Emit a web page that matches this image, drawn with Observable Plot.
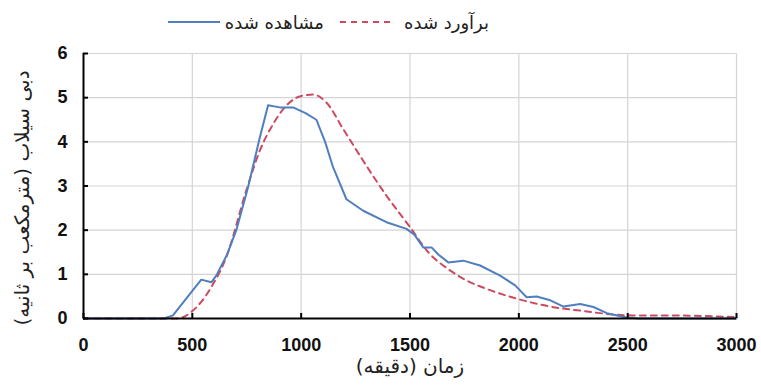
<!DOCTYPE html>
<html><head><meta charset="utf-8">
<script src="https://cdn.jsdelivr.net/npm/d3@7"></script>
<script src="https://cdn.jsdelivr.net/npm/@observablehq/plot@0.6"></script>
<style>
body{margin:0;background:#fff;}
#wrap{position:relative;width:761px;height:385px;}
#legend{position:absolute;top:7px;left:0;width:761px;height:30px;font-family:"DejaVu Sans",sans-serif;font-size:18px;color:#222;}
.item{position:absolute;top:0;display:flex;align-items:center;height:30px;}
.ylab{position:absolute;left:22px;top:198px;transform:translate(-50%,-50%) rotate(-90deg);white-space:nowrap;font-family:"DejaVu Sans",sans-serif;font-size:20px;color:#222;}
.xlab{position:absolute;left:410px;top:366px;transform:translate(-50%,-50%);white-space:nowrap;font-family:"DejaVu Sans",sans-serif;font-size:20px;color:#222;}
</style></head>
<body><div id="wrap"></div>
<script>
const seriesNames = ["مشاهده شده", "برآورد شده"];
const xTitle = "زمان (دقیقه)";
const yTitle = "دبی سیلاب (مترمکعب بر ثانیه)";
const xTicks = [0, 500, 1000, 1500, 2000, 2500, 3000];
const yTicks = [0, 1, 2, 3, 4, 5, 6];

const obsTime = [0, 370, 411, 480, 541, 587, 610, 660, 702, 756, 810, 848, 902, 963, 1020, 1070, 1110, 1147, 1208, 1285, 1392, 1484, 1520, 1561, 1599, 1630, 1676, 1745, 1822, 1914, 1983, 2036, 2082, 2140, 2205, 2282, 2343, 2404, 2489, 2550, 3000];
const obsQ    = [0, 0, 0.07, 0.5, 0.88, 0.82, 0.97, 1.45, 2.0, 2.97, 4.1, 4.83, 4.78, 4.78, 4.65, 4.5, 4.0, 3.42, 2.7, 2.44, 2.18, 2.03, 1.9, 1.61, 1.61, 1.45, 1.27, 1.31, 1.2, 0.97, 0.75, 0.48, 0.5, 0.42, 0.27, 0.33, 0.26, 0.12, 0.03, 0, 0];

const estTime = [0, 430, 503, 587, 656, 748, 810, 871, 932, 1001, 1055, 1116, 1193, 1285, 1392, 1500, 1584, 1684, 1760, 1852, 1990, 2144, 2297, 2435, 2525, 2680, 3000];
const estQ    = [0, 0, 0.18, 0.71, 1.39, 2.9, 3.8, 4.4, 4.82, 5.04, 5.07, 4.89, 4.29, 3.57, 2.78, 2.07, 1.5, 1.09, 0.86, 0.67, 0.45, 0.27, 0.17, 0.09, 0.07, 0.07, 0.03];

const colors = ["#4f7fbf", "#cc4a60"];

const obs = obsTime.map((t, i) => ({t, q: obsQ[i]}));
const est = estTime.map((t, i) => ({t, q: estQ[i]}));

const tickFont = {fontFamily: "'Liberation Sans', Arial, sans-serif", fontWeight: "bold", fontSize: 18, fill: "#111", tickFormat: d => String(d)};

const chart = Plot.plot({
  width: 761, height: 385,
  marginLeft: 83, marginRight: 25, marginTop: 53, marginBottom: 67,
  x: {domain: [0, 3000]},
  y: {domain: [0, 6]},
  style: {background: "#fff", overflow: "visible"},
  marks: [
    Plot.gridX(xTicks, {stroke: "#d4d4d4", strokeOpacity: 1, strokeWidth: 1.2}),
    Plot.gridY(yTicks, {stroke: "#d4d4d4", strokeOpacity: 1, strokeWidth: 1.2}),
    Plot.line(est, {x: "t", y: "q", stroke: colors[1], strokeWidth: 2, strokeDasharray: "6,5", curve: "monotone-x"}),
    Plot.line(obs, {x: "t", y: "q", stroke: colors[0], strokeWidth: 2, curve: "linear"}),
    Plot.ruleY([0], {stroke: "#000", strokeWidth: 2}),
    Plot.ruleX([0], {stroke: "#000", strokeWidth: 2}),
    Plot.axisX(xTicks, {tickSize: -5, tickPadding: 25, stroke: "#000", strokeWidth: 2, label: null, ...tickFont}),
    Plot.axisY(yTicks, {tickSize: -5, tickPadding: 21, stroke: "#000", strokeWidth: 2, label: null, ...tickFont})
  ]
});
const wrap = document.getElementById("wrap");
wrap.appendChild(chart);

const legend = document.createElement("div");
legend.id = "legend";
legend.innerHTML = `
  <div class="item" style="left:168px"><svg width="52" height="10"><line x1="0" y1="5" x2="52" y2="5" stroke="${colors[0]}" stroke-width="2"/></svg></div>
  <div class="item" style="right:437px" dir="rtl">${seriesNames[0]}</div>
  <div class="item" style="left:340px"><svg width="54" height="10"><line x1="0" y1="5" x2="54" y2="5" stroke="${colors[1]}" stroke-width="2" stroke-dasharray="6,5"/></svg></div>
  <div class="item" style="left:404px" dir="rtl">${seriesNames[1]}</div>`;
wrap.appendChild(legend);

const yl = document.createElement("div"); yl.className = "ylab"; yl.dir = "rtl"; yl.textContent = yTitle; wrap.appendChild(yl);
const xl = document.createElement("div"); xl.className = "xlab"; xl.dir = "rtl"; xl.textContent = xTitle; wrap.appendChild(xl);
</script></body></html>
